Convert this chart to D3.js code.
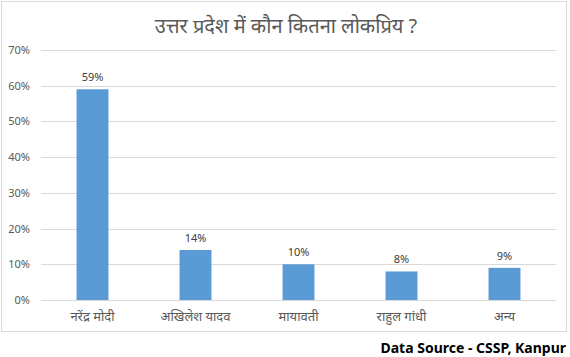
<!DOCTYPE html>
<html><head><meta charset="utf-8">
<script src="https://cdn.jsdelivr.net/npm/d3@7"></script>
<style>body{margin:0;background:#fff}svg{display:block}</style>
</head><body>
<script>
const categories = ["नरेंद्र मोदी", "अखिलेश यादव", "मायावती", "राहुल गांधी", "अन्य"];
const values = [59, 14, 10, 8, 9];
const yTicks = [0, 10, 20, 30, 40, 50, 60, 70];
const title = "उत्तर प्रदेश में कौन कितना लोकप्रिय ?";
const source = "Data Source - CSSP, Kanpur";

const W = 570, H = 357;
const svg = d3.select("body").append("svg").attr("width", W).attr("height", H);
svg.append("rect").attr("width", W).attr("height", H).attr("fill", "#fff");
svg.append("rect").attr("x", 1.5).attr("y", 1.5).attr("width", 565).attr("height", 330)
  .attr("fill", "none").attr("stroke", "#D9D9D9");

const x = d3.scaleBand().domain(categories).range([41, 556]).paddingInner(0.69).paddingOuter(0.345);
const y = d3.scaleLinear().domain([0, 70]).range([300, 50]);
const font = "'Noto Sans', 'Open Sans', sans-serif";

svg.append("text").attr("x", 286).attr("y", 33).attr("text-anchor", "middle")
  .attr("font-size", 20).attr("fill", "#595959").attr("font-family", font).text(title);

const g = svg.append("g");
g.selectAll("line.grid").data(yTicks).join("line")
  .attr("x1", 41).attr("x2", 556).attr("y1", d => Math.round(y(d)) + 0.5).attr("y2", d => Math.round(y(d)) + 0.5)
  .attr("stroke", "#D9D9D9").attr("stroke-width", 1);
g.selectAll("text.yl").data(yTicks).join("text")
  .attr("x", 30).attr("y", d => y(d) + 4).attr("text-anchor", "end")
  .attr("font-size", 11).attr("fill", "#595959").attr("font-family", font).text(d => d + "%");

g.selectAll("rect.bar").data(values).join("rect")
  .attr("x", (d, i) => x(categories[i])).attr("width", x.bandwidth())
  .attr("y", d => y(d)).attr("height", d => y(0) - y(d)).attr("fill", "#5B9BD5");
g.selectAll("text.vl").data(values).join("text")
  .attr("x", (d, i) => x(categories[i]) + x.bandwidth() / 2).attr("y", d => y(d) - 8)
  .attr("text-anchor", "middle").attr("font-size", 11).attr("fill", "#404040")
  .attr("font-family", font).text(d => d + "%");
g.selectAll("text.cl").data(categories).join("text")
  .attr("x", d => x(d) + x.bandwidth() / 2).attr("y", 321)
  .attr("text-anchor", "middle").attr("font-size", 13).attr("fill", "#595959")
  .attr("font-family", font).text(d => d);

svg.append("text").attr("x", 566).attr("y", 353).attr("text-anchor", "end")
  .attr("font-size", 14).attr("font-weight", "bold").attr("fill", "#000")
  .attr("font-family", font).text(source);
</script>
</body></html>
